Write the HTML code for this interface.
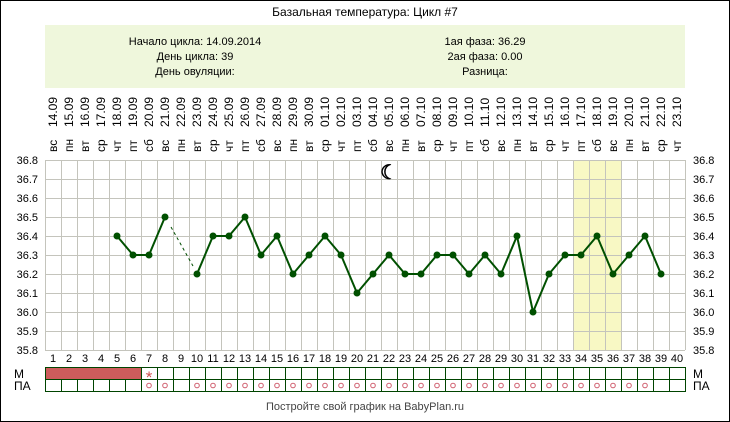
<!DOCTYPE html>
<html><head><meta charset="utf-8"><style>
html,body{margin:0;padding:0;background:#fff}
svg{display:block}
text{font-family:"Liberation Sans",Arial,sans-serif;fill:#000}
</style></head><body>
<svg width="730" height="422" viewBox="0 0 730 422" xmlns="http://www.w3.org/2000/svg">
<rect x="0.5" y="0.5" width="729" height="421" fill="#fff" stroke="#000"/>
<text x="365" y="16" font-size="12" text-anchor="middle">Базальная температура: Цикл #7</text>
<rect x="45" y="25" width="640" height="63" fill="#eff7dc"/>
<g font-size="11" text-anchor="middle">
<text x="195" y="45">Начало цикла: 14.09.2014</text>
<text x="195" y="60">День цикла: 39</text>
<text x="195" y="75">День овуляции:</text>
<text x="485" y="45">1ая фаза: 36.29</text>
<text x="485" y="60">2ая фаза: 0.00</text>
<text x="485" y="75">Разница:</text>
</g>
<rect x="573" y="160" width="48" height="190" fill="#f8f8c4"/>
<g stroke="#c4c4bc" stroke-width="1">
<path d="M45.5 160V350M61.5 160V350M77.5 160V350M93.5 160V350M109.5 160V350M125.5 160V350M141.5 160V350M157.5 160V350M173.5 160V350M189.5 160V350M205.5 160V350M221.5 160V350M237.5 160V350M253.5 160V350M269.5 160V350M285.5 160V350M301.5 160V350M317.5 160V350M333.5 160V350M349.5 160V350M365.5 160V350M381.5 160V350M397.5 160V350M413.5 160V350M429.5 160V350M445.5 160V350M461.5 160V350M477.5 160V350M493.5 160V350M509.5 160V350M525.5 160V350M541.5 160V350M557.5 160V350M573.5 160V350M589.5 160V350M605.5 160V350M621.5 160V350M637.5 160V350M653.5 160V350M669.5 160V350M685.5 160V350"/>
<path d="M45 160.5H685M45 179.5H685M45 198.5H685M45 217.5H685M45 236.5H685M45 255.5H685M45 274.5H685M45 293.5H685M45 312.5H685M45 331.5H685M45 350.5H685"/>
</g>
<g font-size="11" text-anchor="end">
<text x="38" y="164">36.8</text><text x="38" y="183">36.7</text><text x="38" y="202">36.6</text><text x="38" y="221">36.5</text><text x="38" y="240">36.4</text><text x="38" y="259">36.3</text><text x="38" y="278">36.2</text><text x="38" y="297">36.1</text><text x="38" y="316">36.0</text><text x="38" y="335">35.9</text><text x="38" y="354">35.8</text>
</g>
<g font-size="11">
<text x="693" y="164">36.8</text><text x="693" y="183">36.7</text><text x="693" y="202">36.6</text><text x="693" y="221">36.5</text><text x="693" y="240">36.4</text><text x="693" y="259">36.3</text><text x="693" y="278">36.2</text><text x="693" y="297">36.1</text><text x="693" y="316">36.0</text><text x="693" y="335">35.9</text><text x="693" y="354">35.8</text>
</g>
<g font-size="11" text-anchor="middle">
<text x="53" y="362">1</text><text x="69" y="362">2</text><text x="85" y="362">3</text><text x="101" y="362">4</text><text x="117" y="362">5</text><text x="133" y="362">6</text><text x="149" y="362">7</text><text x="165" y="362">8</text><text x="181" y="362">9</text><text x="197" y="362">10</text><text x="213" y="362">11</text><text x="229" y="362">12</text><text x="245" y="362">13</text><text x="261" y="362">14</text><text x="277" y="362">15</text><text x="293" y="362">16</text><text x="309" y="362">17</text><text x="325" y="362">18</text><text x="341" y="362">19</text><text x="357" y="362">20</text><text x="373" y="362">21</text><text x="389" y="362">22</text><text x="405" y="362">23</text><text x="421" y="362">24</text><text x="437" y="362">25</text><text x="453" y="362">26</text><text x="469" y="362">27</text><text x="485" y="362">28</text><text x="501" y="362">29</text><text x="517" y="362">30</text><text x="533" y="362">31</text><text x="549" y="362">32</text><text x="565" y="362">33</text><text x="581" y="362">34</text><text x="597" y="362">35</text><text x="613" y="362">36</text><text x="629" y="362">37</text><text x="645" y="362">38</text><text x="661" y="362">39</text><text x="677" y="362">40</text>
</g>
<g font-size="12">
<text transform="translate(57,127) rotate(-90)">14.09</text><text transform="translate(57,152) rotate(-90)">вс</text>
<text transform="translate(73,127) rotate(-90)">15.09</text><text transform="translate(73,152) rotate(-90)">пн</text>
<text transform="translate(89,127) rotate(-90)">16.09</text><text transform="translate(89,152) rotate(-90)">вт</text>
<text transform="translate(105,127) rotate(-90)">17.09</text><text transform="translate(105,152) rotate(-90)">ср</text>
<text transform="translate(121,127) rotate(-90)">18.09</text><text transform="translate(121,152) rotate(-90)">чт</text>
<text transform="translate(137,127) rotate(-90)">19.09</text><text transform="translate(137,152) rotate(-90)">пт</text>
<text transform="translate(153,127) rotate(-90)">20.09</text><text transform="translate(153,152) rotate(-90)">сб</text>
<text transform="translate(169,127) rotate(-90)">21.09</text><text transform="translate(169,152) rotate(-90)">вс</text>
<text transform="translate(185,127) rotate(-90)">22.09</text><text transform="translate(185,152) rotate(-90)">пн</text>
<text transform="translate(201,127) rotate(-90)">23.09</text><text transform="translate(201,152) rotate(-90)">вт</text>
<text transform="translate(217,127) rotate(-90)">24.09</text><text transform="translate(217,152) rotate(-90)">ср</text>
<text transform="translate(233,127) rotate(-90)">25.09</text><text transform="translate(233,152) rotate(-90)">чт</text>
<text transform="translate(249,127) rotate(-90)">26.09</text><text transform="translate(249,152) rotate(-90)">пт</text>
<text transform="translate(265,127) rotate(-90)">27.09</text><text transform="translate(265,152) rotate(-90)">сб</text>
<text transform="translate(281,127) rotate(-90)">28.09</text><text transform="translate(281,152) rotate(-90)">вс</text>
<text transform="translate(297,127) rotate(-90)">29.09</text><text transform="translate(297,152) rotate(-90)">пн</text>
<text transform="translate(313,127) rotate(-90)">30.09</text><text transform="translate(313,152) rotate(-90)">вт</text>
<text transform="translate(329,127) rotate(-90)">01.10</text><text transform="translate(329,152) rotate(-90)">ср</text>
<text transform="translate(345,127) rotate(-90)">02.10</text><text transform="translate(345,152) rotate(-90)">чт</text>
<text transform="translate(361,127) rotate(-90)">03.10</text><text transform="translate(361,152) rotate(-90)">пт</text>
<text transform="translate(377,127) rotate(-90)">04.10</text><text transform="translate(377,152) rotate(-90)">сб</text>
<text transform="translate(393,127) rotate(-90)">05.10</text><text transform="translate(393,152) rotate(-90)">вс</text>
<text transform="translate(409,127) rotate(-90)">06.10</text><text transform="translate(409,152) rotate(-90)">пн</text>
<text transform="translate(425,127) rotate(-90)">07.10</text><text transform="translate(425,152) rotate(-90)">вт</text>
<text transform="translate(441,127) rotate(-90)">08.10</text><text transform="translate(441,152) rotate(-90)">ср</text>
<text transform="translate(457,127) rotate(-90)">09.10</text><text transform="translate(457,152) rotate(-90)">чт</text>
<text transform="translate(473,127) rotate(-90)">10.10</text><text transform="translate(473,152) rotate(-90)">пт</text>
<text transform="translate(489,127) rotate(-90)">11.10</text><text transform="translate(489,152) rotate(-90)">сб</text>
<text transform="translate(505,127) rotate(-90)">12.10</text><text transform="translate(505,152) rotate(-90)">вс</text>
<text transform="translate(521,127) rotate(-90)">13.10</text><text transform="translate(521,152) rotate(-90)">пн</text>
<text transform="translate(537,127) rotate(-90)">14.10</text><text transform="translate(537,152) rotate(-90)">вт</text>
<text transform="translate(553,127) rotate(-90)">15.10</text><text transform="translate(553,152) rotate(-90)">ср</text>
<text transform="translate(569,127) rotate(-90)">16.10</text><text transform="translate(569,152) rotate(-90)">чт</text>
<text transform="translate(585,127) rotate(-90)">17.10</text><text transform="translate(585,152) rotate(-90)">пт</text>
<text transform="translate(601,127) rotate(-90)">18.10</text><text transform="translate(601,152) rotate(-90)">сб</text>
<text transform="translate(617,127) rotate(-90)">19.10</text><text transform="translate(617,152) rotate(-90)">вс</text>
<text transform="translate(633,127) rotate(-90)">20.10</text><text transform="translate(633,152) rotate(-90)">пн</text>
<text transform="translate(649,127) rotate(-90)">21.10</text><text transform="translate(649,152) rotate(-90)">вт</text>
<text transform="translate(665,127) rotate(-90)">22.10</text><text transform="translate(665,152) rotate(-90)">ср</text>
<text transform="translate(681,127) rotate(-90)">23.10</text><text transform="translate(681,152) rotate(-90)">чт</text>
</g>
<text x="389" y="179" font-size="20" font-weight="bold" text-anchor="middle" fill="#222">☾</text>
<line x1="171" y1="227" x2="193" y2="266" stroke="#004d00" stroke-width="1" stroke-dasharray="3,3"/>
<g fill="none" stroke="#005000" stroke-width="2">
<polyline points="117,236 133,255 149,255 165,217"/>
<polyline points="197,274 213,236 229,236 245,217 261,255 277,236 293,274 309,255 325,236 341,255 357,293 373,274 389,255 405,274 421,274 437,255 453,255 469,274 485,255 501,274 517,236 533,312 549,274 565,255 581,255 597,236 613,274 629,255 645,236 661,274"/>
</g>
<g fill="#005000">
<circle cx="117" cy="236" r="3.5"/><circle cx="133" cy="255" r="3.5"/><circle cx="149" cy="255" r="3.5"/><circle cx="165" cy="217" r="3.5"/>
<circle cx="197" cy="274" r="3.5"/><circle cx="213" cy="236" r="3.5"/><circle cx="229" cy="236" r="3.5"/><circle cx="245" cy="217" r="3.5"/><circle cx="261" cy="255" r="3.5"/><circle cx="277" cy="236" r="3.5"/><circle cx="293" cy="274" r="3.5"/><circle cx="309" cy="255" r="3.5"/><circle cx="325" cy="236" r="3.5"/><circle cx="341" cy="255" r="3.5"/><circle cx="357" cy="293" r="3.5"/><circle cx="373" cy="274" r="3.5"/><circle cx="389" cy="255" r="3.5"/><circle cx="405" cy="274" r="3.5"/><circle cx="421" cy="274" r="3.5"/><circle cx="437" cy="255" r="3.5"/><circle cx="453" cy="255" r="3.5"/><circle cx="469" cy="274" r="3.5"/><circle cx="485" cy="255" r="3.5"/><circle cx="501" cy="274" r="3.5"/><circle cx="517" cy="236" r="3.5"/><circle cx="533" cy="312" r="3.5"/><circle cx="549" cy="274" r="3.5"/><circle cx="565" cy="255" r="3.5"/><circle cx="581" cy="255" r="3.5"/><circle cx="597" cy="236" r="3.5"/><circle cx="613" cy="274" r="3.5"/><circle cx="629" cy="255" r="3.5"/><circle cx="645" cy="236" r="3.5"/><circle cx="661" cy="274" r="3.5"/>
</g>
<rect x="45" y="367" width="96" height="12" fill="#cd5c5c"/>
<g stroke="#004400" stroke-width="1" fill="none">
<rect x="45.5" y="367.5" width="640" height="12"/>
<rect x="45.5" y="379.5" width="640" height="12"/>
<path d="M61.5 379V391M77.5 379V391M93.5 379V391M109.5 379V391M125.5 379V391M141.5 367V391M157.5 367V391M173.5 367V391M189.5 367V391M205.5 367V391M221.5 367V391M237.5 367V391M253.5 367V391M269.5 367V391M285.5 367V391M301.5 367V391M317.5 367V391M333.5 367V391M349.5 367V391M365.5 367V391M381.5 367V391M397.5 367V391M413.5 367V391M429.5 367V391M445.5 367V391M461.5 367V391M477.5 367V391M493.5 367V391M509.5 367V391M525.5 367V391M541.5 367V391M557.5 367V391M573.5 367V391M589.5 367V391M605.5 367V391M621.5 367V391M637.5 367V391M653.5 367V391M669.5 367V391"/>
</g>
<text x="149" y="383" font-size="17" text-anchor="middle" style="fill:#d05050">*</text>
<g stroke="#d06070" stroke-width="1" fill="none">
<circle cx="149" cy="385.5" r="2.3"/><circle cx="165" cy="385.5" r="2.3"/>
<circle cx="197" cy="385.5" r="2.3"/><circle cx="213" cy="385.5" r="2.3"/><circle cx="229" cy="385.5" r="2.3"/><circle cx="245" cy="385.5" r="2.3"/><circle cx="261" cy="385.5" r="2.3"/><circle cx="277" cy="385.5" r="2.3"/><circle cx="293" cy="385.5" r="2.3"/><circle cx="309" cy="385.5" r="2.3"/><circle cx="325" cy="385.5" r="2.3"/><circle cx="341" cy="385.5" r="2.3"/><circle cx="357" cy="385.5" r="2.3"/><circle cx="373" cy="385.5" r="2.3"/><circle cx="389" cy="385.5" r="2.3"/><circle cx="405" cy="385.5" r="2.3"/><circle cx="421" cy="385.5" r="2.3"/><circle cx="437" cy="385.5" r="2.3"/><circle cx="453" cy="385.5" r="2.3"/><circle cx="469" cy="385.5" r="2.3"/><circle cx="485" cy="385.5" r="2.3"/><circle cx="501" cy="385.5" r="2.3"/><circle cx="517" cy="385.5" r="2.3"/><circle cx="533" cy="385.5" r="2.3"/><circle cx="549" cy="385.5" r="2.3"/><circle cx="565" cy="385.5" r="2.3"/><circle cx="581" cy="385.5" r="2.3"/><circle cx="597" cy="385.5" r="2.3"/><circle cx="613" cy="385.5" r="2.3"/><circle cx="629" cy="385.5" r="2.3"/><circle cx="645" cy="385.5" r="2.3"/>
</g>
<g font-size="12">
<text x="14" y="378">М</text><text x="14" y="390">ПА</text>
<text x="693" y="378">М</text><text x="693" y="390">ПА</text>
</g>
<text x="365" y="410" font-size="11" text-anchor="middle" style="fill:#444">Постройте свой график на BabyPlan.ru</text>
</svg>
</body></html>
